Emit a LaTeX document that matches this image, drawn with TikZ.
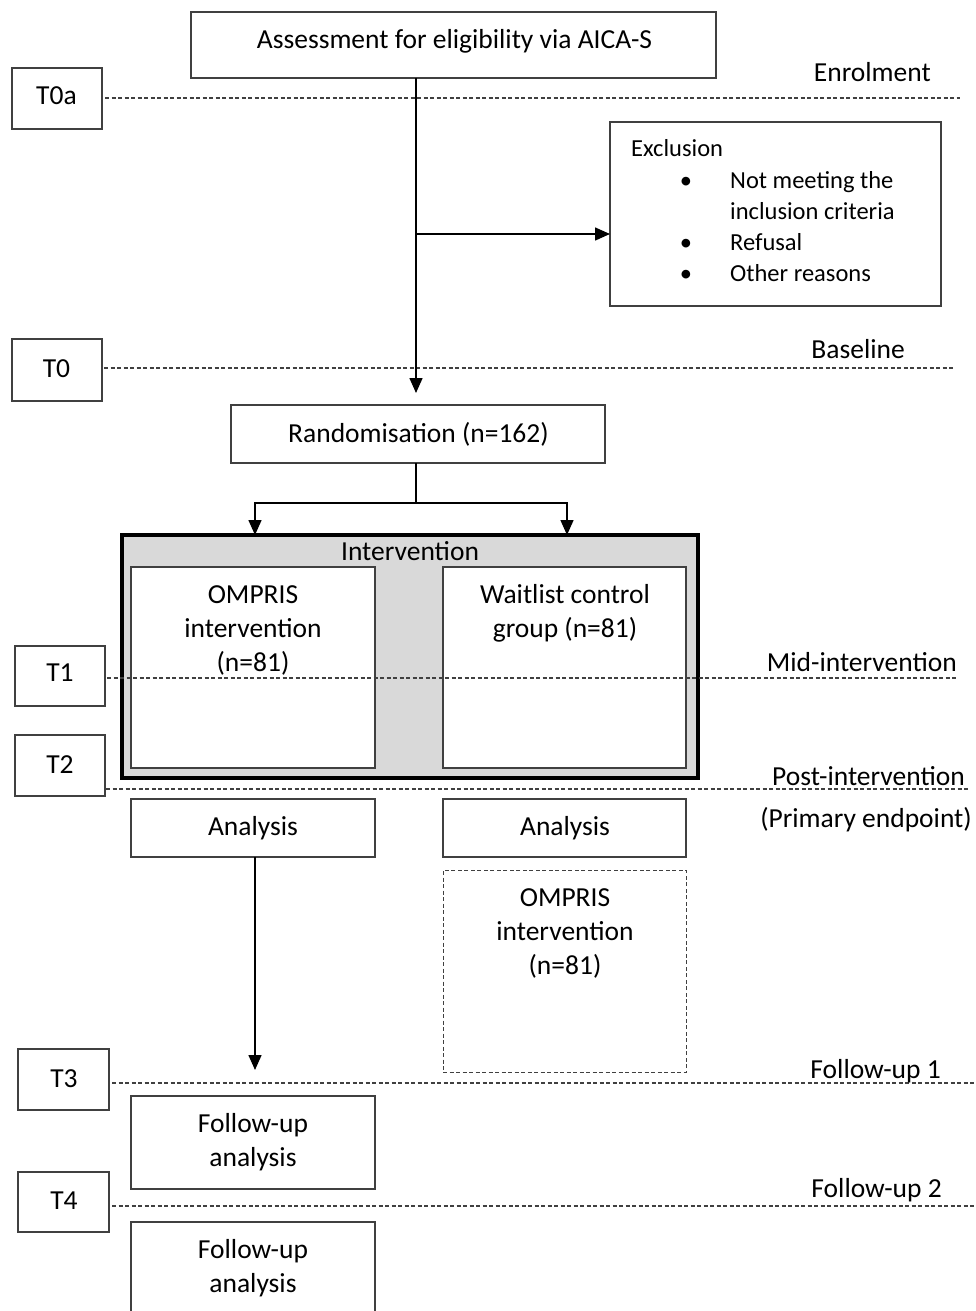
\documentclass[tikz,border=0pt]{standalone}
\usepackage{fontspec}
\setmainfont{Carlito}
\usetikzlibrary{arrows.meta,calc}
\definecolor{bord}{HTML}{404040}
\definecolor{ifill}{HTML}{D9D9D9}
\begin{document}
\begin{tikzpicture}[x=1pt,y=-1pt,
  box/.style={draw=bord, line width=1.3pt, fill=white, inner sep=0pt, outer sep=0pt},
  dbox/.style={draw=bord, line width=1pt, dash pattern=on 4pt off 2.5pt, fill=white, inner sep=0pt, outer sep=0pt},
  txt/.style={font=\fontsize{27.5}{34}\selectfont, inner sep=0pt, anchor=base, align=center},
  stxt/.style={font=\fontsize{24.5}{31}\selectfont, inner sep=0pt, anchor=base west},
  bul/.style={font=\fontsize{24.5}{31}\selectfont, inner sep=0pt, anchor=base},
  lbl/.style={font=\fontsize{27.5}{34}\selectfont, inner sep=0pt, anchor=base east},
  tl/.style={draw=bord, line width=1.3pt, dash pattern=on 4pt off 2.5pt},
  conn/.style={draw=black, line width=1.5pt},
  arr/.style={conn, -{Triangle[length=15pt,width=13pt]}}
]
\useasboundingbox (0,0) rectangle (975,1311);
\clip (0,0) rectangle (975,1311);

% ---------- top ----------
\node[box, minimum width=525pt, minimum height=66pt] (assess) at (453.5,45) {};
\node[txt] (assesst) at (454.5,49) {Assessment for eligibility via AICA-S};

\node[box, minimum width=90pt, minimum height=61pt] (t0a) at (57,98.5) {};
\node[txt] (t0at) at (56.5,105) {T0a};

\node[box, minimum width=331pt, minimum height=184pt] (excl) at (775.5,214) {};
\node[stxt] (exclt) at (631,156) {Exclusion};
\node[bul] (b1) at (686,188) {\textbullet};
\node[stxt] (e1t) at (730,188) {Not meeting the};
\node[stxt] (e2t) at (730,219) {inclusion criteria};
\node[bul] (b2) at (686,250) {\textbullet};
\node[stxt] (e3t) at (730,250) {Refusal};
\node[bul] (b3) at (686,281) {\textbullet};
\node[stxt] (e4t) at (730,281) {Other reasons};

\node[box, minimum width=90pt, minimum height=62pt] (t0) at (57,370) {};
\node[txt] (t0t) at (56.5,377) {T0};

\node[box, minimum width=374pt, minimum height=58pt] (rand) at (418,434) {};
\node[txt] (randt) at (418.5,442) {Randomisation (n=162)};

% ---------- intervention ----------
\node[draw=black, line width=3.5pt, fill=ifill, minimum width=576pt, minimum height=243pt, inner sep=0pt, outer sep=0pt] (interv) at (410,656.5) {};
\node[txt] (intervt) at (410,560) {Intervention};
\node[box, minimum width=244pt, minimum height=201pt] (omp) at (253,667.5) {};
\node[txt] (ompt) at (253,671) {OMPRIS\\intervention\\(n=81)};
\node[box, minimum width=243pt, minimum height=201pt] (wait) at (564.5,667.5) {};
\node[txt] (waitt) at (565,637) {Waitlist control\\group (n=81)};

\node[box, minimum width=90pt, minimum height=60pt] (t1) at (60,676) {};
\node[txt] (t1t) at (60,681) {T1};
\node[box, minimum width=90pt, minimum height=61pt] (t2) at (60,765.5) {};
\node[txt] (t2t) at (60,773) {T2};

% ---------- analysis ----------
\node[box, minimum width=244pt, minimum height=58pt] (anl) at (253,828) {};
\node[txt] (anlt) at (253,835) {Analysis};
\node[box, minimum width=243pt, minimum height=58pt] (anr) at (564.5,828) {};
\node[txt] (anrt) at (565,835) {Analysis};

\node[dbox, minimum width=243pt, minimum height=202pt] (omp2) at (564.5,971) {};
\node[txt] (omp2t) at (565,974) {OMPRIS\\intervention\\(n=81)};

\node[box, minimum width=91pt, minimum height=61pt] (t3) at (63.5,1079.5) {};
\node[txt] (t3t) at (64,1087) {T3};
\node[box, minimum width=244pt, minimum height=93pt] (fu1) at (253,1142.5) {};
\node[txt] (fu1t) at (253,1166) {Follow-up\\analysis};

\node[box, minimum width=91pt, minimum height=60pt] (t4) at (63.5,1202) {};
\node[txt] (t4t) at (64,1209) {T4};
\node[box, minimum width=244pt, minimum height=120pt] (fu2) at (253,1282) {};
\node[txt] (fu2t) at (253,1292) {Follow-up\\analysis};

% ---------- time lines ----------
\coordinate (e0a) at (960,98);
\coordinate (e0) at (955,368);
\coordinate (e1) at (958,678);
\coordinate (e2) at (968,789);
\coordinate (e3) at (975,1083);
\coordinate (e4) at (975,1206);
\draw[tl] ([xshift=3pt]t0a.east |- e0a) -- (e0a);
\draw[tl] ([xshift=2pt]t0.east |- e0) -- (e0);
\draw[tl] ([xshift=2pt]t1.east |- e1) -- (e1);
\draw[tl] ([xshift=1pt]t2.east |- e2) -- (e2);
\draw[tl] ([xshift=3pt]t3.east |- e3) -- (e3);
\draw[tl] ([xshift=3pt]t4.east |- e4) -- (e4);

\node[lbl] (l0a) at (931,82) {Enrolment};
\node[lbl] (l0) at (905,358) {Baseline};
\node[lbl] (l1) at (957,671) {Mid-intervention};
\node[lbl] (l2) at (965,785) {Post-intervention};
\node[lbl] (l2b) at (972,827) {(Primary endpoint)};
\node[lbl] (l3) at (941,1078) {Follow-up 1};
\node[lbl] (l4) at (942,1197) {Follow-up 2};

% ---------- connectors ----------
\coordinate (top) at (416,78);
\coordinate (br) at (416,234);
\coordinate (sp) at (416,503);
\draw[arr, shorten >=12pt] (assess.south -| top) -- (rand.north -| top);
\draw[arr] (br) -- (br -| excl.west);
\draw[arr] (rand.south -| sp) -- (sp) -| ([xshift=2pt]omp.north |- interv.north);
\draw[arr] (rand.south -| sp) -- (sp) -| ([xshift=2.5pt]wait.north |- interv.north);
\draw[arr, shorten >=26pt] ([xshift=2pt]anl.south) -- ([xshift=2pt]fu1.north);
\end{tikzpicture}
\end{document}
